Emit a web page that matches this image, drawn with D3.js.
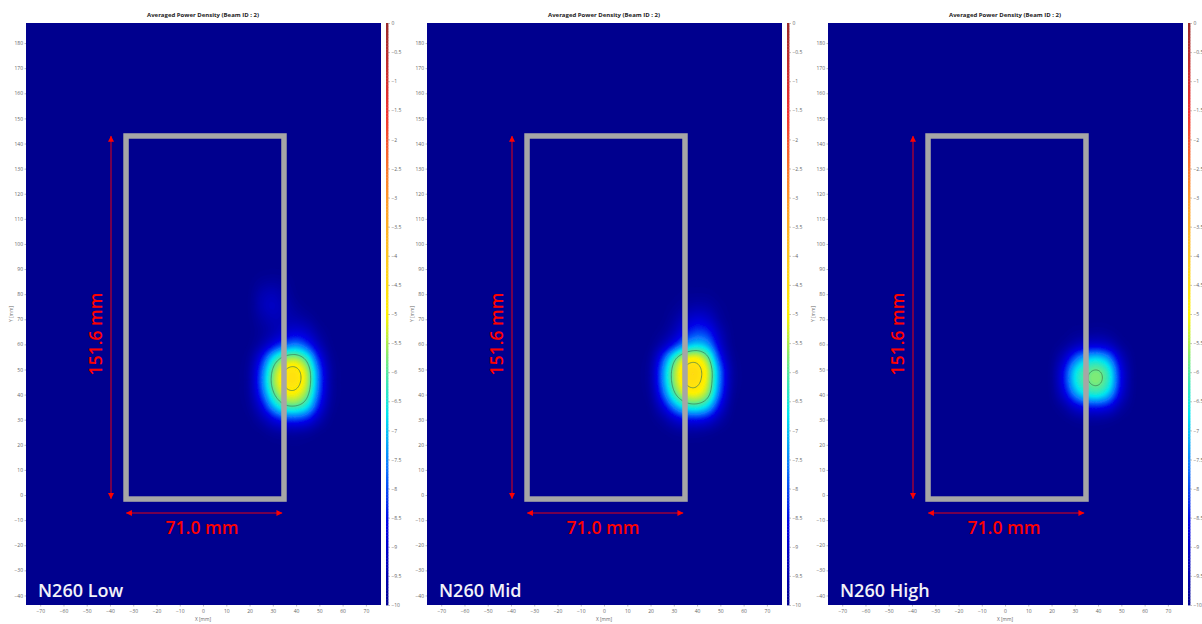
<!DOCTYPE html>
<html><head><meta charset="utf-8">
<script src="https://cdn.jsdelivr.net/npm/d3@7"></script>
<style>html,body{margin:0;padding:0;background:#fff}svg{display:block}text{font-family:"Open Sans","Noto Sans",sans-serif}</style>
</head><body><svg id="c" width="1202" height="624"></svg>
<script>
const title = "Averaged Power Density (Beam ID : 2)";
const panelNames = ["N260 Low", "N260 Mid", "N260 High"];
const gridX = [15,20,25,30,35,40,45,50,55,60];
const gridY = [90,85,80,75,70,65,60,55,50,45,40,35,30,25,20];
const B = -10;
const lowValues = [
 [B,B,B,B,B,B,B,B,B,B],
 [B,B,-9.8,-9.7,-9.8,B,B,B,B,B],
 [B,B,-9.4,-9.2,-9.6,B,B,B,B,B],
 [B,B,-9.3,-9.0,-9.4,-9.8,B,B,B,B],
 [B,B,-9.6,-9.3,-9.4,-9.5,-9.7,B,B,B],
 [B,B,-9.8,-9.5,-9.1,-8.8,-9.1,-9.8,B,B],
 [B,B,-9.6,-8.8,-8.0,-7.5,-8.2,-9.4,B,B],
 [B,-9.9,-8.6,-6.6,-5.6,-5.4,-6.2,-8.6,-9.9,B],
 [B,-9.8,-7.9,-5.7,-4.7,-4.5,-5.3,-7.9,-9.8,B],
 [B,-9.8,-7.7,-5.5,-4.6,-4.5,-5.2,-7.8,-9.8,B],
 [B,-9.8,-8.1,-6.0,-5.0,-4.9,-5.6,-8.0,-9.8,B],
 [B,-9.9,-8.9,-7.1,-6.0,-5.9,-6.5,-8.6,-9.9,B],
 [B,B,-9.6,-8.8,-8.2,-8.1,-8.4,-9.4,B,B],
 [B,B,B,-9.8,-9.7,-9.7,-9.8,B,B,B],
 [B,B,B,B,B,B,B,B,B,B]];
const midValues = [
 [B,B,B,B,B,B,B,B,B,B],
 [B,B,B,B,B,B,B,B,B,B],
 [B,B,B,B,-9.9,-9.9,-9.9,B,B,B],
 [B,B,B,-9.9,-9.7,-9.5,-9.6,-9.9,B,B],
 [B,B,B,-9.7,-9.1,-8.7,-9.0,-9.8,B,B],
 [B,B,-9.9,-9.4,-8.5,-8.0,-8.2,-9.4,B,B],
 [B,B,-9.5,-8.6,-7.4,-6.9,-7.3,-9.1,B,B],
 [B,-9.9,-8.2,-6.1,-5.0,-4.8,-5.7,-8.5,-9.9,B],
 [B,-9.8,-7.5,-5.5,-4.4,-4.3,-5.1,-7.7,-9.8,B],
 [B,-9.8,-7.5,-5.5,-4.5,-4.4,-5.2,-7.7,-9.8,B],
 [B,-9.9,-8.0,-6.0,-5.0,-4.9,-5.5,-8.0,-9.9,B],
 [B,B,-9.0,-7.4,-6.4,-6.2,-6.8,-8.8,B,B],
 [B,B,-9.8,-9.1,-8.6,-8.5,-8.8,-9.6,B,B],
 [B,B,B,-9.9,-9.8,-9.8,-9.9,B,B,B],
 [B,B,B,B,B,B,B,B,B,B]];
const highValues = [
 [B,B,B,B,B,B,B,B,B,B],
 [B,B,B,B,B,B,B,B,B,B],
 [B,B,B,B,B,B,B,B,B,B],
 [B,B,B,B,B,B,B,B,B,B],
 [B,B,B,B,B,B,B,B,B,B],
 [B,B,B,-9.9,-9.9,-9.8,-9.9,B,B,B],
 [B,B,-9.9,-9.5,-9.1,-9.0,-9.3,-9.9,B,B],
 [B,B,-9.3,-7.8,-7.0,-6.8,-7.4,-9.3,B,B],
 [B,B,-8.6,-6.6,-5.9,-5.6,-6.3,-8.8,B,B],
 [B,B,-8.5,-6.5,-5.8,-5.5,-6.2,-8.7,B,B],
 [B,B,-9.0,-7.2,-6.4,-6.2,-6.9,-9.0,B,B],
 [B,B,-9.8,-9.0,-8.5,-8.4,-8.7,-9.7,B,B],
 [B,B,B,-9.9,-9.8,-9.8,-9.9,B,B,B],
 [B,B,B,B,B,B,B,B,B,B],
 [B,B,B,B,B,B,B,B,B,B]];
const panelValues = [lowValues, midValues, highValues];
const contourLevels = [[-4.85,-6.0],[-4.7,-6.0],[-5.85,-9.6]];
const panelLefts = [26, 427, 828];
const xTicks = d3.range(-70,71,10);
const yTicks = d3.range(-40,181,10);
const barTicks = d3.range(0,-10.01,-0.5);
const phoneX = [-33.1,34.8], phoneY = [-1.6,143];
const colorStops = [-10,-8.6,-7.6,-6.7,-6,-5,-4,-3,-1.5,0];
const colorVals = ["#00008e","#0000e6","#0a78ff","#00e6f0","#50e8a0","#fff200","#ffc820","#ff9a28","#f03030","#9a2a2a"];

const svg = d3.select("#c");
const W = 355, plotTop = 23, plotBottom = 605;
const color = d3.scaleLinear().domain(colorStops).range(colorVals).clamp(true);
const y = d3.scaleLinear().domain([-43.8,188]).range([plotBottom,plotTop]);
const defs = svg.append("defs");
defs.append("marker").attr("id","ah").attr("viewBox","0 0 10 10").attr("refX",9.5).attr("refY",5)
 .attr("markerWidth",10).attr("markerHeight",6).attr("orient","auto-start-reverse")
 .attr("markerUnits","userSpaceOnUse")
 .append("path").attr("d","M0,0L10,5L0,10Z").attr("fill","#ff0000");
defs.append("filter").attr("id","soft").append("feGaussianBlur").attr("stdDeviation",0.6);

const F = 10;
function upsample(rows){
  const n = (rows[0].length-1)*F+1, m = (rows.length-1)*F+1, out = new Float64Array(n*m);
  for(let j=0;j<m;j++){const r=Math.min(Math.floor(j/F),rows.length-2),v=j/F-r;
    for(let i=0;i<n;i++){const c=Math.min(Math.floor(i/F),rows[0].length-2),u=i/F-c;
      out[j*n+i]=(rows[r][c]*(1-u)+rows[r][c+1]*u)*(1-v)+(rows[r+1][c]*(1-u)+rows[r+1][c+1]*u)*v;}}
  d3.blur2({data:out,width:n,height:m},3);
  return {n,m,out};
}

panelLefts.forEach((left,p)=>{
  const g = svg.append("g").attr("transform",`translate(${left},0)`);
  const x = d3.scaleLinear().domain([-76.1,76.5]).range([0,W]);
  g.append("rect").attr("x",0).attr("y",plotTop).attr("width",W).attr("height",plotBottom-plotTop).attr("fill",color(-10));

  const {n,m,out} = upsample(panelValues[p]);
  const dx = gridX[1]-gridX[0], dy = gridY[1]-gridY[0];
  const proj = d3.geoTransform({point(a,b){
    this.stream.point(x(gridX[0]+(a-0.5)/F*dx), y(gridY[0]+(b-0.5)/F*dy));}});
  const path = d3.geoPath(proj);
  const contours = d3.contours().size([n,m]);
  const fill = g.append("g").attr("filter","url(#soft)");
  fill.selectAll("path").data(contours.thresholds(d3.range(-9.95,-3,0.07))(Array.from(out)))
    .join("path").attr("d",path).attr("fill",d=>color(d.value)).attr("stroke",d=>color(d.value)).attr("stroke-width",0.3);
  g.append("g").selectAll("path").data(contourLevels[p].map(l=>contours.contour(Array.from(out),l)))
    .join("path").attr("d",path).attr("fill","none").attr("stroke",(d,i)=>d.value<-9?"#0000a8":"#3c7a50").attr("stroke-width",0.7);

  // phone outline
  g.append("rect").attr("x",x(phoneX[0])).attr("y",y(phoneY[1]))
    .attr("width",x(phoneX[1])-x(phoneX[0])).attr("height",y(phoneY[0])-y(phoneY[1]))
    .attr("fill","none").attr("stroke","#a6a6a6").attr("stroke-width",5.5);

  // dimension arrows
  g.append("line").attr("x1",85).attr("x2",85).attr("y1",y(-1.5)).attr("y2",y(143))
    .attr("stroke","#ff0000").attr("stroke-width",0.9).attr("marker-start","url(#ah)").attr("marker-end","url(#ah)");
  g.append("line").attr("x1",x(-33)).attr("x2",x(34)).attr("y1",513).attr("y2",513)
    .attr("stroke","#ff0000").attr("stroke-width",0.9).attr("marker-start","url(#ah)").attr("marker-end","url(#ah)");
  g.append("text").attr("transform","translate(76,334) rotate(-90)").attr("text-anchor","middle")
    .attr("font-size",17.5).attr("font-weight",600).attr("fill","#ff0000").text("151.6 mm");
  g.append("text").attr("x",176).attr("y",534).attr("text-anchor","middle")
    .attr("font-size",17.5).attr("font-weight",600).attr("fill","#ff0000").text("71.0 mm");
  g.append("text").attr("x",12).attr("y",597).attr("font-size",18).attr("font-weight",600).attr("fill","#f2f2f8").text(panelNames[p]);

  // title and axes
  g.append("text").attr("x",W/2-0.5).attr("y",16.5).attr("text-anchor","middle").attr("font-size",6).attr("font-weight",700).attr("fill","#222").text(title);
  const ax = g.append("g").attr("transform",`translate(0,${plotBottom})`).call(d3.axisBottom(x).tickValues(xTicks).tickSize(1.5).tickPadding(3));
  const ay = g.append("g").call(d3.axisLeft(y).tickValues(yTicks).tickSize(1.5).tickPadding(1.5));
  [ax,ay].forEach(a=>{a.select(".domain").remove();a.selectAll("text").attr("font-size",5).attr("fill","#666").style("font-family",'"Open Sans",sans-serif');a.selectAll("line").attr("stroke","#777").attr("stroke-width",0.5);});
  g.append("text").attr("x",177).attr("y",621).attr("text-anchor","middle").attr("font-size",4.8).attr("fill","#666").text("X [mm]");
  g.append("text").attr("transform","translate(-13,314) rotate(-90)").attr("text-anchor","middle").attr("font-size",4.8).attr("fill","#666").text("Y [mm]");

  // colour bar
  const bar = d3.scaleLinear().domain([0,-10]).range([plotTop,plotBottom]);
  const cb = g.append("g").attr("transform",`translate(${W+5},0)`);
  cb.selectAll("rect").data(d3.range(0,-10,-0.05)).join("rect")
    .attr("x",0).attr("width",2.4).attr("y",d=>bar(d)).attr("height",d=>bar(d-0.05)-bar(d)+0.4).attr("fill",d=>color(d));
  const ac = cb.append("g").attr("transform","translate(2.4,0)").call(d3.axisRight(bar).tickValues(barTicks).tickFormat(d=>d3.format("")(d)).tickSize(1.5).tickPadding(1.5));
  ac.select(".domain").remove();
  ac.selectAll("text").attr("font-size",5).attr("fill","#666").style("font-family",'"Open Sans",sans-serif');
  ac.selectAll("line").attr("stroke","#777").attr("stroke-width",0.5);
});
</script></body></html>
